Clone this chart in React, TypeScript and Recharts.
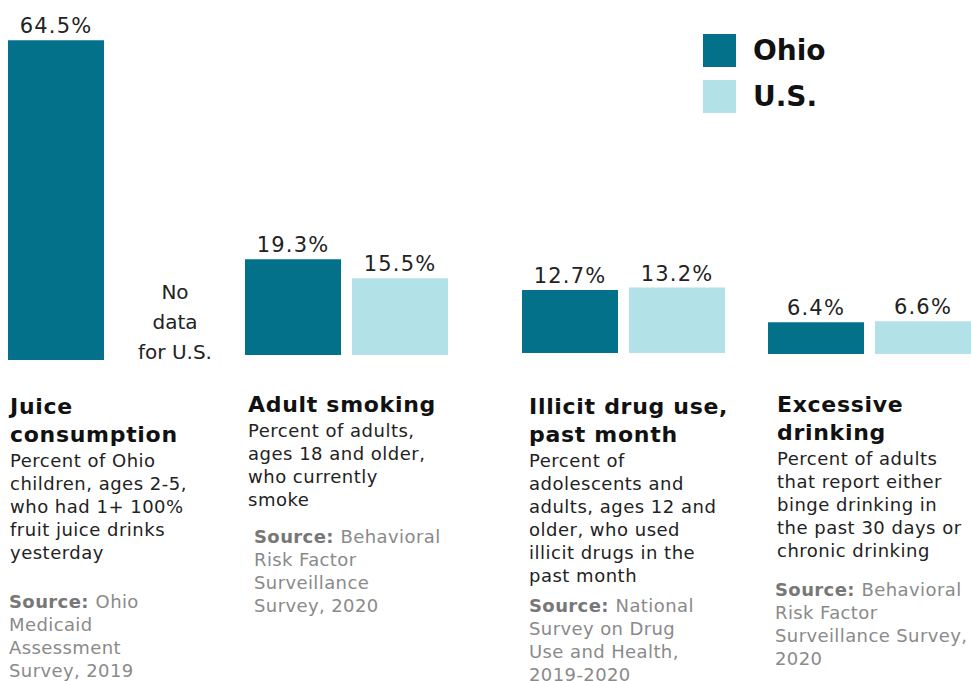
import { Bar, BarChart, LabelList, XAxis, YAxis } from "recharts";

// values
const groups = ["Juice consumption", "Adult smoking", "Illicit drug use, past month", "Excessive drinking"];
const ohioValues = [64.5, 19.3, 12.7, 6.4];
const usValues: (number | null)[] = [null, 15.5, 13.2, 6.6];

const titleLines = [
  ["Juice", "consumption"],
  ["Adult smoking"],
  ["Illicit drug use,", "past month"],
  ["Excessive", "drinking"],
];
const descLines = [
  ["Percent of Ohio", "children, ages 2-5,", "who had 1+ 100%", "fruit juice drinks", "yesterday"],
  ["Percent of adults,", "ages 18 and older,", "who currently", "smoke"],
  ["Percent of", "adolescents and", "adults, ages 12 and", "older, who used", "illicit drugs in the", "past month"],
  ["Percent of adults", "that report either", "binge drinking in", "the past 30 days or", "chronic drinking"],
];
const sourceLines = [
  ["Ohio", "Medicaid", "Assessment", "Survey, 2019"],
  ["Behavioral", "Risk Factor", "Surveillance", "Survey, 2020"],
  ["National", "Survey on Drug", "Use and Health,", "2019-2020"],
  ["Behavioral", "Risk Factor", "Surveillance Survey,", "2020"],
];

const OHIO = "#04718a";
const US = "#b2e2e8";
const FONT = "'DejaVu Sans', sans-serif";

// layout (pixels)
const chartLeft = [8, 245, 522, 768];
const baseline = [360, 355, 353, 354];
const textLeft = [10, 248, 529, 777];
const titleTop = [393, 391, 393, 391];
const sourceLeft = [9, 254, 529, 775];
const sourceTop = [590, 525, 594, 578];
const PLOT_H = 347;
const CHART_W = 205; // a bit wider than 2 bars + gap so recharts keeps the gap

const fmt = (v: any) => (v == null ? "" : `${v}%`);

const labelStyle = { fill: "#222", fontSize: 21, fontFamily: FONT, letterSpacing: 1.2 };

function Group({ i }: { i: number }) {
  const data = [{ name: groups[i], ohio: ohioValues[i], us: usValues[i] }];
  return (
    <div style={{ position: "absolute", left: chartLeft[i] - 1, top: baseline[i] - PLOT_H }}>
      <BarChart
        width={CHART_W}
        height={PLOT_H}
        data={data}
        margin={{ top: 0, right: 0, bottom: 0, left: 0 }}
        barCategoryGap={0}
        barGap={11}
      >
        <XAxis dataKey="name" hide />
        <YAxis hide domain={[0, 70]} />
        <Bar dataKey="ohio" fill={OHIO} barSize={96} isAnimationActive={false}>
          <LabelList dataKey="ohio" position="top" offset={7} formatter={fmt} style={labelStyle} />
        </Bar>
        <Bar dataKey="us" fill={US} barSize={96} isAnimationActive={false}>
          <LabelList dataKey="us" position="top" offset={7} formatter={fmt} style={labelStyle} />
        </Bar>
      </BarChart>
    </div>
  );
}

function TextBlock({ i }: { i: number }) {
  return (
    <>
      <div
        style={{
          position: "absolute",
          left: textLeft[i],
          top: titleTop[i],
          whiteSpace: "nowrap",
          color: "#111",
        }}
      >
        {titleLines[i].map((l) => (
          <div key={l} style={{ fontSize: 22, fontWeight: 700, lineHeight: "28px", letterSpacing: 0.7 }}>
            {l}
          </div>
        ))}
        {descLines[i].map((l) => (
          <div key={l} style={{ fontSize: 18, lineHeight: "23px", color: "#222", letterSpacing: 0.5 }}>
            {l}
          </div>
        ))}
      </div>
      <div
        style={{
          position: "absolute",
          left: sourceLeft[i],
          top: sourceTop[i],
          whiteSpace: "nowrap",
          fontSize: 18,
          lineHeight: "23px",
          letterSpacing: 0.4,
          color: "#8a8a8a",
        }}
      >
        {sourceLines[i].map((l, k) => (
          <div key={l}>
            {k === 0 && <span style={{ fontWeight: 700, color: "#777" }}>Source: </span>}
            {l}
          </div>
        ))}
      </div>
    </>
  );
}

export default function App() {
  return (
    <div
      style={{
        position: "absolute",
        left: 0,
        top: 0,
        width: 971,
        height: 681,
        overflow: "hidden",
        background: "#fff",
        fontFamily: FONT,
      }}
    >
      {groups.map((g, i) => (
        <Group key={g} i={i} />
      ))}
      {groups.map((g, i) => (
        <TextBlock key={g} i={i} />
      ))}
      <div
        style={{
          position: "absolute",
          left: 120,
          top: 277,
          width: 110,
          textAlign: "center",
          fontSize: 20,
          lineHeight: "30px",
          color: "#222",
        }}
      >
        No
        <br />
        data
        <br />
        for U.S.
      </div>
      <div style={{ position: "absolute", left: 703, top: 34 }}>
        {[
          { name: "Ohio", color: OHIO },
          { name: "U.S.", color: US },
        ].map((s) => (
          <div key={s.name} style={{ display: "flex", alignItems: "center", height: 33, marginBottom: 13 }}>
            <span style={{ width: 33, height: 33, background: s.color, display: "inline-block" }} />
            <span style={{ marginLeft: 17, fontSize: 28, fontWeight: 700, color: "#111" }}>{s.name}</span>
          </div>
        ))}
      </div>
    </div>
  );
}
